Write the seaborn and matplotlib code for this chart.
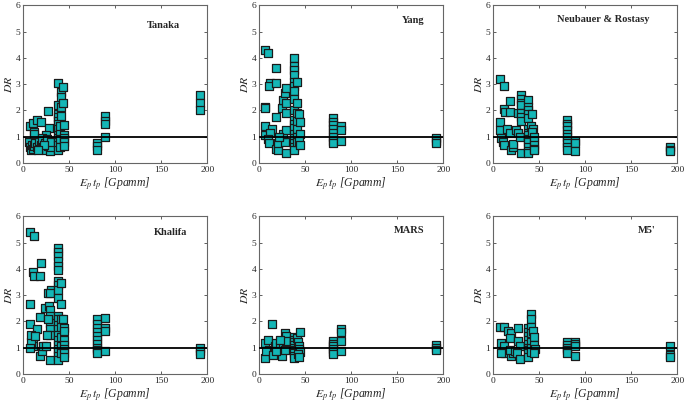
"""
Design ratio DR against Ep*tp for six bond models, 2x3 grid of scatter panels.
"""

import numpy as np
import pandas as pd
import matplotlib
matplotlib.use("Agg")
import matplotlib.pyplot as plt
import seaborn as sns

# ---- data ----
tanaka_x = [8, 11, 12, 12, 15, 19, 27, 28, 25, 21, 30,
            7, 8, 9, 10, 11, 12, 13, 15, 17, 18, 20, 21, 22, 24, 25, 26, 27, 29, 30, 30, 23, 16,
            38, 38, 38, 38, 38, 38, 38, 38, 38, 38, 38, 38,
            40, 40, 40, 40, 41, 41, 41, 41, 43, 43,
            45, 45, 45, 45, 45, 80, 80, 80, 89, 89, 89, 89, 192, 192, 192]
tanaka_y = [1.4, 1.52, 1.2, 1.12, 1.62, 1.55, 1.97, 1.35, 1.05, 0.95, 0.85,
            0.8, 0.6, 0.5, 0.7, 0.55, 0.65, 0.75, 0.6, 0.8, 0.55, 0.7, 0.85, 0.6, 0.75, 0.5, 0.9, 0.65, 0.45, 0.6, 0.8, 0.7, 0.5,
            3.05, 2.2, 1.85, 1.75, 1.6, 1.5, 1.3, 1.05, 0.95, 0.8, 0.7, 0.5,
            1.2, 0.9, 0.6, 1.4, 2.7, 2.5, 2.15, 1.8, 2.9, 2.3,
            1.45, 1.05, 0.95, 0.8, 0.65, 0.75, 0.65, 0.5, 1.8, 1.6, 1.5, 1.0, 2.6, 2.3, 2.0]

yang_x = [7, 10, 18, 12, 11, 18, 7, 7, 18, 25, 26, 28, 29, 29, 29, 7, 14, 7, 12, 10, 11, 18, 21, 21, 28, 26, 29, 29, 22,
          38, 38, 38, 38, 38, 38, 38, 38, 38, 38, 38, 38, 38, 38, 38, 38, 38,
          41, 41, 41, 41, 41, 41, 41, 43, 45, 45, 44, 45,
          80, 80, 80, 80, 80, 80, 80, 80, 89, 89, 89, 192, 192, 192]
yang_y = [4.3, 4.2, 3.6, 3.05, 2.95, 3.05, 2.15, 2.1, 1.75, 2.1, 2.4, 2.65, 2.85, 2.3, 1.9, 1.4, 1.3, 1.05, 1.15, 0.9, 0.75,
          0.55, 0.5, 0.75, 0.8, 1.1, 1.25, 0.4, 1.0,
          4.0, 3.7, 3.55, 3.35, 3.1, 2.95, 2.75, 2.45, 2.0, 1.65, 1.5, 1.35, 1.1, 0.95, 0.75, 0.6, 0.5,
          3.1, 2.3, 1.9, 1.6, 1.3, 1.0, 0.8, 1.85, 1.55, 1.1, 0.85, 0.7,
          1.7, 1.55, 1.45, 1.3, 1.15, 1.0, 0.85, 0.75, 1.4, 1.25, 0.85, 0.95, 0.85, 0.75]

neubauer_x = [8, 12, 12, 13, 19, 19, 8, 8, 15, 19, 25, 27, 9, 11, 12, 20, 22, 22, 29, 30, 27,
              30, 30, 30, 30, 30, 30, 30,
              38, 38, 38, 38, 38, 38, 38, 38, 38, 38, 38, 38, 38,
              42, 41, 43, 42, 44, 45, 45, 45, 44,
              80, 80, 80, 80, 80, 80, 80, 80, 80, 80, 89, 89, 89, 192, 192, 192]
neubauer_y = [3.2, 2.93, 2.05, 1.95, 2.35, 1.93, 1.57, 1.25, 1.28, 1.13, 1.25, 1.15, 0.95, 0.8, 0.7, 0.5, 0.62, 0.72, 1.0, 0.37, 1.9,
              2.6, 2.45, 2.3, 2.2, 1.9, 1.75, 1.6,
              2.4, 2.15, 2.0, 1.85, 1.7, 1.3, 1.15, 1.05, 0.9, 0.8, 0.6, 0.45, 0.4,
              1.85, 1.4, 1.3, 1.2, 1.0, 0.85, 0.7, 0.55, 0.5,
              1.65, 1.5, 1.4, 1.25, 1.1, 1.0, 0.85, 0.75, 0.6, 0.5, 0.85, 0.75, 0.45, 0.6, 0.5, 0.45]

khalifa_x = [8, 12, 11, 12, 18, 19, 8, 8, 15, 18, 27, 30, 29, 24, 28, 29, 29, 29, 29, 29, 26, 27, 29, 18, 21, 22, 25,
             11, 11, 9, 8, 9, 13,
             38, 38, 38, 38, 38, 38, 38, 38, 38, 38, 38, 38, 38, 38, 38, 38, 38, 38, 38, 38, 38,
             41, 41, 41, 41, 41, 41, 41, 43, 44, 45, 44, 45, 45, 45, 45,
             80, 80, 80, 80, 80, 80, 80, 80, 80, 80, 89, 89, 89, 89, 192, 192, 192]
khalifa_y = [5.4, 5.25, 3.88, 3.75, 3.75, 4.24, 2.68, 1.9, 1.7, 2.18, 3.07, 3.2, 3.1, 2.52, 2.6, 2.45, 2.2, 1.95, 1.7, 1.5,
             1.47, 2.08, 0.55, 0.68, 0.87, 1.05, 1.05,
             1.3, 1.05, 1.2, 1.0, 1.5, 1.45,
             4.78, 4.65, 4.5, 4.3, 4.1, 3.95, 3.55, 3.4, 3.2, 2.9, 2.2, 2.1, 1.85, 1.7, 1.5, 1.3, 1.1, 0.95, 0.85, 0.7, 0.55,
             3.45, 2.65, 2.1, 1.8, 1.4, 1.05, 0.8, 2.1, 1.75, 1.65, 1.3, 1.1, 0.95, 0.8, 0.65,
             2.1, 1.9, 1.75, 1.6, 1.45, 1.3, 1.15, 1.0, 0.9, 0.8, 2.15, 1.75, 1.65, 0.88, 0.98, 0.88, 0.78]

mars_x = [14, 7, 7, 10, 11, 14, 17, 19, 21, 23, 25, 26, 28, 29, 29, 28, 8, 15, 19, 23,
          38, 38, 38, 38, 38, 38, 38, 38, 38,
          41, 45, 42, 44, 43, 45, 42, 44,
          80, 80, 80, 80, 80, 80, 89, 89, 89, 89, 192, 192, 192]
mars_y = [1.92, 0.61, 1.18, 1.3, 0.93, 0.87, 1.05, 1.18, 0.8, 1.05, 0.68, 1.18, 1.57, 1.44, 1.25, 0.93, 0.87, 0.74, 0.87, 1.3,
          1.4, 1.3, 1.2, 1.1, 1.0, 0.9, 0.8, 0.7, 0.6,
          1.38, 1.6, 1.2, 1.05, 0.95, 0.85, 0.75, 0.65,
          1.25, 1.15, 1.05, 0.95, 0.85, 0.75, 1.73, 1.6, 1.25, 0.88, 1.12, 1.0, 0.93]

m5_x = [8, 12, 16, 20, 19, 27, 27, 29, 9, 11, 12, 13, 20, 22, 18, 24, 26, 29, 9,
        38, 38, 38, 38, 38, 38, 38, 38, 38,
        41, 41, 41, 41, 41, 41, 41, 43, 44, 45, 46, 45,
        80, 80, 80, 80, 80, 89, 89, 89, 89, 192, 192, 192]
m5_y = [1.78, 1.78, 1.63, 1.55, 1.38, 1.76, 1.25, 1.06, 1.18, 0.87, 1.06, 0.8, 0.68, 0.8, 0.93, 0.87, 0.8, 0.57, 0.8,
        1.75, 1.6, 1.45, 1.3, 1.15, 1.0, 0.9, 0.8, 0.65,
        2.3, 2.1, 1.8, 1.55, 1.2, 1.0, 0.85, 1.65, 1.4, 1.1, 0.95, 0.8,
        1.2, 1.1, 1.0, 0.9, 0.8, 1.22, 1.15, 1.05, 0.68, 1.08, 0.72, 0.65]

models = ["Tanaka", "Yang", "Neubauer & Rostasy", "Khalifa", "MARS", "M5'"]
xs = [tanaka_x, yang_x, neubauer_x, khalifa_x, mars_x, m5_x]
ys = [tanaka_y, yang_y, neubauer_y, khalifa_y, mars_y, m5_y]

# title anchor (right edge) inside each panel, axes fraction
title_pos = [(0.85, 0.87), (0.90, 0.905), (0.85, 0.91), (0.89, 0.90), (0.90, 0.91), (0.88, 0.91)]

sns.set_style("ticks")
plt.rcParams["font.family"] = ["Liberation Serif", "DejaVu Serif"]
plt.rcParams["mathtext.fontset"] = "stix"

fig = plt.figure(figsize=(6.85, 4.04), dpi=100)
lefts = [0.0336, 0.378, 0.7197]
bottoms = [0.5965, 0.0743]
w, h = 0.269, 0.39

for i, (name, x, y) in enumerate(zip(models, xs, ys)):
    ax = fig.add_axes([lefts[i % 3], bottoms[i // 3], w, h])
    df = pd.DataFrame({"EpTp": x, "DR": y})
    sns.scatterplot(data=df, x="EpTp", y="DR", marker="s", s=28,
                    color="#14B6B6", edgecolor="#1a1a1a", linewidth=0.9, ax=ax, zorder=2)
    ax.axhline(1, color="black", lw=1.3, zorder=3)
    ax.set_xlim(0, 200)
    ax.set_ylim(0, 6)
    ax.set_xticks([0, 50, 100, 150, 200])
    ax.set_yticks(np.arange(0, 7))
    ax.tick_params(direction="in", top=True, right=True, length=2.5, width=0.6,
                   labelsize=6.8, pad=2, color="#444444")
    for sp in ax.spines.values():
        sp.set_color("#666666")
        sp.set_linewidth(0.8)
    ax.set_xlabel(r"$E_p\,t_p$ [Gpamm]", fontsize=8.5, fontstyle="italic", labelpad=1)
    ax.set_ylabel(r"$DR$", fontsize=8.5, labelpad=0)
    tx, ty = title_pos[i]
    ax.text(tx, ty, name, transform=ax.transAxes, ha="right", va="center",
            fontsize=7.5, fontweight="bold")

fig.savefig("out.png", dpi=100)
